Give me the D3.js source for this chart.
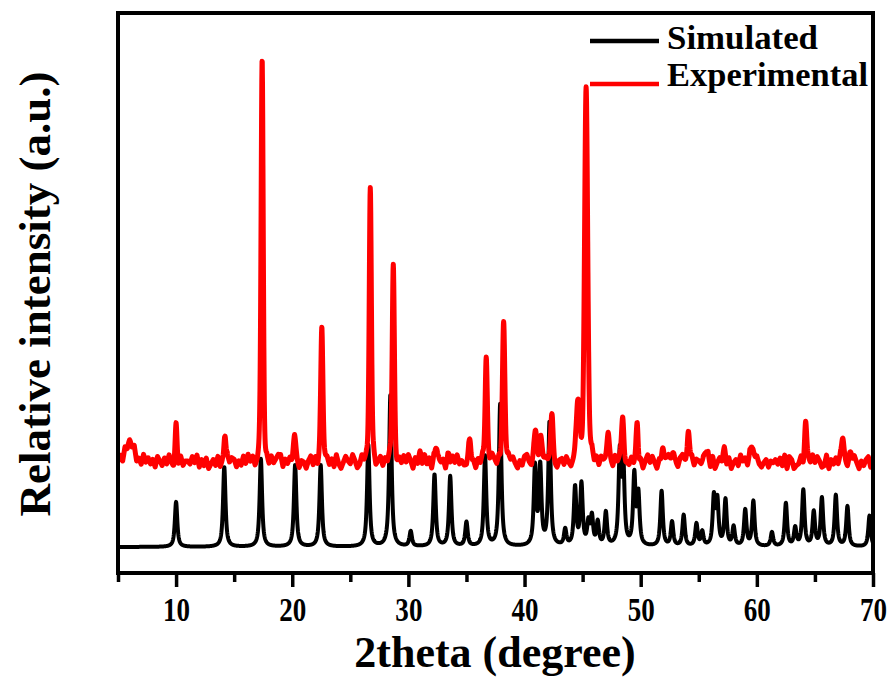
<!DOCTYPE html>
<html>
<head>
<meta charset="utf-8">
<script src="https://cdn.jsdelivr.net/npm/d3@7"></script>
<style>
  html, body { margin: 0; padding: 0; background: #fff; }
  svg { display: block; }
  text { font-family: "Liberation Serif", "Times New Roman", serif; font-weight: bold; fill: #000; }
</style>
</head>
<body>
<svg id="chart" width="896" height="682"></svg>
<script>
// XRD patterns: calculated reflections (Simulated) and the measured powder pattern (Experimental).
// Peaks are [2theta (deg), intensity (a.u.)].
const simulatedPeaks = [
  [10.0, 45], [14.15, 80], [17.3, 88], [20.25, 82], [22.45, 82], [26.55, 102],
  [28.45, 152], [30.2, 15], [32.25, 72], [33.6, 70], [35.0, 24], [36.6, 90],
  [37.9, 142], [40.9, 78], [41.35, 78], [42.15, 123], [43.5, 16], [44.35, 58],
  [44.9, 61], [45.5, 22], [45.8, 28], [46.3, 23], [47.0, 33], [48.2, 90],
  [48.5, 80], [49.45, 70], [49.8, 50], [51.8, 55], [52.7, 24], [53.7, 31],
  [54.8, 22], [55.3, 14], [56.3, 48], [56.6, 44], [57.3, 46], [58.0, 19],
  [59.0, 36], [59.7, 45], [61.3, 14], [62.5, 43], [63.3, 18], [64.0, 56],
  [64.9, 34], [65.6, 48], [66.8, 51], [67.8, 40], [69.7, 31]
];
const experimentalPeaks = [
  [6.0, 20], [10.0, 37], [14.2, 32], [17.41, 404], [20.2, 22], [22.55, 135],
  [26.72, 275], [28.7, 199], [31.0, 10], [32.4, 18], [33.5, 8], [35.3, 22],
  [36.7, 103], [38.2, 147], [40.95, 32], [41.4, 20], [42.35, 42], [44.6, 62],
  [45.3, 372], [47.2, 22], [48.45, 49], [49.7, 39], [51.9, 17], [52.8, 14],
  [54.1, 35], [55.6, 12], [57.2, 10], [59.6, 20], [64.2, 40], [67.4, 20], [68.1, 10]
];
// Peak widths (FWHM, deg) of the experimental peaks, same order as above
const experimentalWidths = [
  0.9, 0.2, 0.2, 0.22, 0.3, 0.22, 0.22, 0.22, 0.25, 0.25, 0.25, 0.25,
  0.22, 0.25, 0.3, 0.3, 0.25, 0.3, 0.32, 0.25, 0.25, 0.2, 0.25, 0.25,
  0.25, 0.3, 0.3, 0.3, 0.22, 0.25, 0.3
];
// Measured background counts, one reading every 0.2 deg from 5 to 70 deg (digits 0-9)
const experimentalNoise =
  "4717263815" + "2947361852" + "7394061825" + "5384916270" + "3628150947" +
  "6152839470" + "2840517369" + "9163728405" + "4058271936" + "7261930485" +
  "3950284716" + "8047163925" + "1638495072" + "5293708164" + "6071849352" +
  "2815063947" + "4962710385" + "7305289416" + "3184756920" + "5627304918" +
  "0483926175" + "6951847203" + "2738160594" + "8406237951" + "4179503826" +
  "5362918047" + "3817046295" + "7290583146" + "1546372908" + "6023815749" +
  "4851290637" + "3975162840" + "526817";
const experimentalOffset = 85;   // vertical offset of the experimental trace
const noiseScale = 1.5;          // counts per background digit
const simulatedWidth = 0.25;     // FWHM of calculated reflections (deg)
const xRange = [5, 70];
const xMajorTicks = [10, 20, 30, 40, 50, 60, 70];
const xMinorTicks = [5, 15, 25, 35, 45, 55, 65];
const legendLabels = ["Simulated", "Experimental"];
const seriesColors = ["#000000", "#ff0000"];

// Peak shape: pseudo-Voigt profile
function pseudoVoigt(dx, w, eta) {
  const g = Math.exp(-4 * Math.LN2 * (dx / w) * (dx / w));
  const l = 1 / (1 + 4 * (dx / w) * (dx / w));
  return eta * l + (1 - eta) * g;
}

const step = 0.02;
const grid = d3.range(xRange[0], xRange[1] + step / 2, step);

const simulated = grid.map(t => {
  let v = 0;
  simulatedPeaks.forEach(([p, h]) => { v += h * pseudoVoigt(t - p, simulatedWidth, 0.85); });
  return [t, v];
});

function noiseAt(t) {
  const pos = (t - xRange[0]) / 0.2;
  const i = Math.min(Math.floor(pos), experimentalNoise.length - 2);
  const f = pos - i;
  const a = +experimentalNoise[i], b = +experimentalNoise[i + 1];
  return ((a + (b - a) * f) - 4.5) * noiseScale;
}

const experimental = grid.map(t => {
  let v = experimentalOffset + noiseAt(t);
  experimentalPeaks.forEach(([p, h], k) => { v += h * pseudoVoigt(t - p, experimentalWidths[k], 0.3); });
  return [t, v];
});

const svg = d3.select("#chart");
const plotLeft = 118, plotRight = 873, plotTop = 13, plotBottom = 573;

const x = d3.scaleLinear().domain(xRange).range([plotLeft, plotRight]);
const y = d3.scaleLinear().domain([-26, 534]).range([plotBottom, plotTop]);

svg.append("defs").append("clipPath").attr("id", "plot")
  .append("rect").attr("x", plotLeft).attr("y", plotTop)
  .attr("width", plotRight - plotLeft).attr("height", plotBottom - plotTop);

const line = d3.line().x(d => x(d[0])).y(d => y(d[1]));

const g = svg.append("g").attr("clip-path", "url(#plot)");
g.append("path").datum(simulated)
  .attr("d", line).attr("fill", "none").attr("stroke", seriesColors[0])
  .attr("stroke-width", 4).attr("stroke-linejoin", "round");
g.append("path").datum(experimental)
  .attr("d", line).attr("fill", "none").attr("stroke", seriesColors[1])
  .attr("stroke-width", 5).attr("stroke-linejoin", "round");

// Frame
svg.append("rect").attr("x", plotLeft).attr("y", plotTop)
  .attr("width", plotRight - plotLeft).attr("height", plotBottom - plotTop)
  .attr("fill", "none").attr("stroke", "#000").attr("stroke-width", 4);

// Bottom axis: major ticks with labels, minor ticks without
const axisMajor = svg.append("g").attr("transform", `translate(0,${plotBottom})`)
  .call(d3.axisBottom(x).tickValues(xMajorTicks).tickSize(14).tickFormat(d3.format("d")));
axisMajor.select(".domain").remove();
axisMajor.selectAll(".tick line").attr("stroke", "#000").attr("stroke-width", 3.5);
axisMajor.selectAll(".tick text")
  .attr("y", 48).attr("dy", 0)
  .attr("font-size", 33)
  .attr("font-family", "Liberation Serif, serif").attr("font-weight", "bold")
  .attr("transform", "scale(0.82,1)");

const axisMinor = svg.append("g").attr("transform", `translate(0,${plotBottom})`)
  .call(d3.axisBottom(x).tickValues(xMinorTicks).tickSize(9).tickFormat(""));
axisMinor.select(".domain").remove();
axisMinor.selectAll(".tick line").attr("stroke", "#000").attr("stroke-width", 3.5);

// Axis titles
svg.append("text").attr("x", 495).attr("y", 667)
  .attr("text-anchor", "middle").attr("font-size", 44)
  .text("2theta (degree)");
svg.append("text")
  .attr("transform", "translate(50,294) rotate(-90)")
  .attr("text-anchor", "middle").attr("font-size", 45)
  .text("Relative intensity (a.u.)");

// Legend
const legendY = [41, 84];
const legendTextY = [49, 86];
const legendTextWidth = [151, 201];
legendLabels.forEach((name, i) => {
  svg.append("line").attr("x1", 590).attr("x2", 659)
    .attr("y1", legendY[i]).attr("y2", legendY[i])
    .attr("stroke", seriesColors[i]).attr("stroke-width", 4.5);
  svg.append("text").attr("x", 667).attr("y", legendTextY[i])
    .attr("font-size", 33)
    .attr("textLength", legendTextWidth[i]).attr("lengthAdjust", "spacingAndGlyphs")
    .text(name);
});
</script>
</body>
</html>
